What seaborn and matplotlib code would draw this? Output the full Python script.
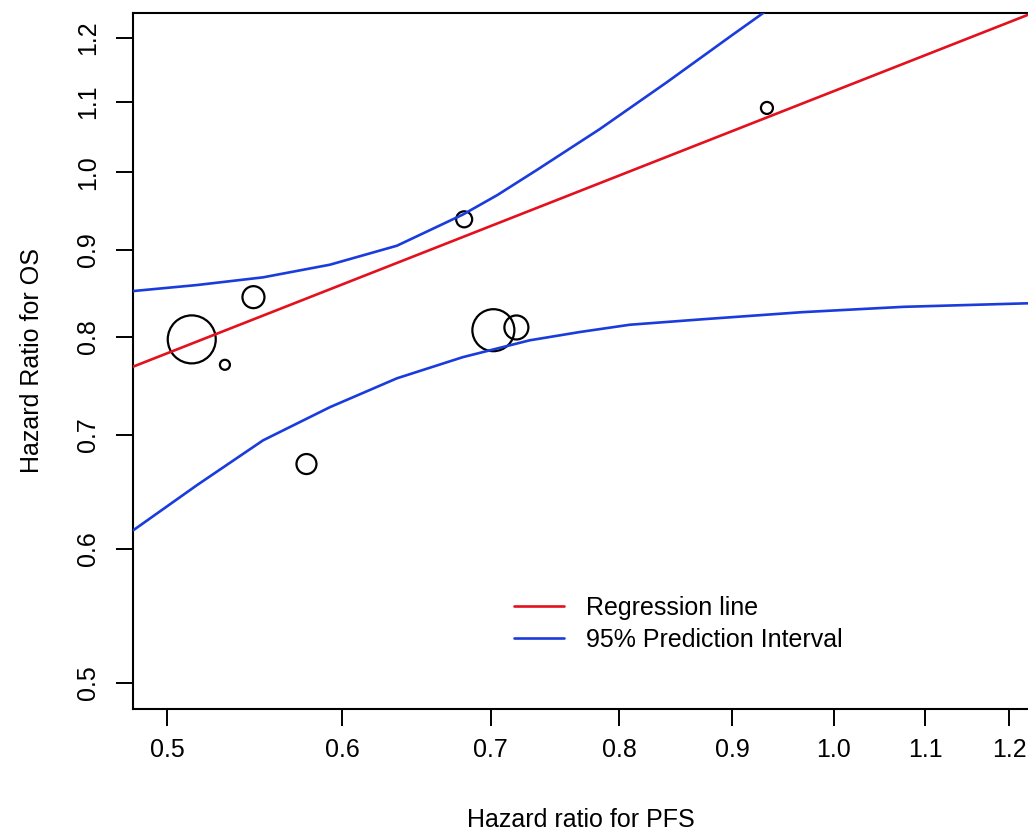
import matplotlib
matplotlib.use("Agg")
import matplotlib.pyplot as plt
import seaborn as sns
from matplotlib.ticker import FixedLocator, NullLocator

# study-level hazard ratios and relative weights (circle radius)
hr_pfs = [0.513, 0.531, 0.547, 0.578, 0.681, 0.702, 0.719, 0.933]
hr_os = [0.797, 0.770, 0.844, 0.673, 0.938, 0.807, 0.810, 1.091]
weights = [24, 5, 11, 10, 8, 21, 12, 6]

# regression line (straight on log-log axes)
reg_x = [0.4826, 1.224]
reg_y = [0.768, 1.238]

# 95% prediction interval
pi_up_x = [0.4826, 0.5158, 0.5525, 0.5923, 0.635, 0.680, 0.705, 0.7345, 0.784, 0.841, 0.900, 0.931, 0.950]
pi_up_y = [0.851, 0.858, 0.867, 0.882, 0.905, 0.944, 0.9695, 1.003, 1.060, 1.130, 1.2045, 1.243, 1.268]
pi_lo_x = [0.4826, 0.5158, 0.5525, 0.5923, 0.635, 0.680, 0.729, 0.768, 0.809, 0.872, 0.968, 1.0755, 1.224]
pi_lo_y = [0.615, 0.654, 0.695, 0.727, 0.756, 0.778, 0.796, 0.805, 0.813, 0.819, 0.827, 0.833, 0.837]

ticks = [0.5, 0.6, 0.7, 0.8, 0.9, 1.0, 1.1, 1.2]
tick_labels = ["0.5", "0.6", "0.7", "0.8", "0.9", "1.0", "1.1", "1.2"]

sns.set_style("white")
plt.rcParams["font.family"] = ["Liberation Sans", "DejaVu Sans"]
plt.rcParams["text.color"] = "black"
plt.rcParams["axes.labelcolor"] = "black"
plt.rcParams["xtick.color"] = "black"
plt.rcParams["ytick.color"] = "black"

fig = plt.figure(figsize=(10.28, 8.34), dpi=100)
ax = fig.add_axes([133 / 1028, 125 / 834, 895 / 1028, 696 / 834])

RED = "#e3101e"
BLUE = "#1a3cdc"

# circle diameter in points from radius in pixels
s = [(2 * w * 0.72) ** 2 for w in weights]
sns.scatterplot(x=hr_pfs, y=hr_os, s=s, facecolor="none", edgecolor="black",
                linewidth=1.6, ax=ax, zorder=2)

sns.lineplot(x=pi_up_x, y=pi_up_y, color=BLUE, lw=1.9, sort=False, estimator=None, ax=ax, zorder=3)
sns.lineplot(x=pi_lo_x, y=pi_lo_y, color=BLUE, lw=1.9, sort=False, estimator=None, ax=ax, zorder=3)
sns.lineplot(x=reg_x, y=reg_y, color=RED, lw=1.9, sort=False, estimator=None, ax=ax, zorder=3)

ax.set_xscale("log")
ax.set_yscale("log")
ax.set_xlim(0.4826, 1.224)
ax.set_ylim(0.4827, 1.241)

ax.xaxis.set_major_locator(FixedLocator(ticks))
ax.yaxis.set_major_locator(FixedLocator(ticks))
ax.xaxis.set_minor_locator(NullLocator())
ax.yaxis.set_minor_locator(NullLocator())
ax.set_xticklabels(tick_labels)
ax.set_yticklabels(tick_labels, rotation=90, va="center")

ax.tick_params(axis="both", direction="out", length=12, width=1.4,
               labelsize=18, bottom=True, left=True)
ax.tick_params(axis="x", pad=9)
ax.tick_params(axis="y", pad=12)

for side in ["left", "bottom", "top"]:
    ax.spines[side].set_visible(True)
    ax.spines[side].set_color("black")
    ax.spines[side].set_linewidth(1.5)
ax.spines["right"].set_visible(False)

ax.set_xlabel("Hazard ratio for PFS", fontsize=18, labelpad=33)
ax.set_ylabel("Hazard Ratio for OS", fontsize=18, labelpad=23)

handles = [plt.Line2D([], [], color=RED, lw=1.9),
           plt.Line2D([], [], color=BLUE, lw=1.9)]
ax.legend(handles, ["Regression line", "95% Prediction Interval"], frameon=False,
          fontsize=18, loc="upper left", bbox_to_anchor=(0.414, 0.177),
          handlelength=2.0, handletextpad=0.9, labelspacing=0.33, borderaxespad=0)

fig.savefig("out.png", dpi=100)
